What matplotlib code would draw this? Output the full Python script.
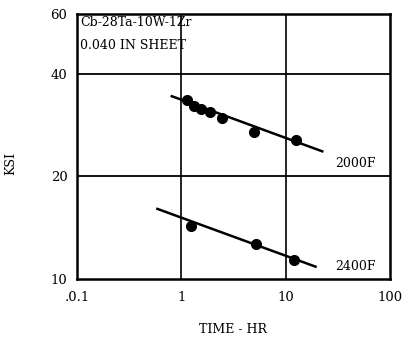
import matplotlib
matplotlib.use('Agg')
import matplotlib.pyplot as plt
from matplotlib.ticker import FixedLocator, FixedFormatter, NullLocator

# 2000F data
time_2000 = [1.14, 1.33, 1.56, 1.90, 2.43, 5.0, 12.5]
ksi_2000 = [33.6, 32.2, 31.5, 30.9, 29.7, 27.0, 25.5]
fit_time_2000 = [0.81, 22.5]
fit_ksi_2000 = [34.4, 23.7]

# 2400F data
time_2400 = [1.25, 5.15, 12.1]
ksi_2400 = [14.3, 12.7, 11.4]
fit_time_2400 = [0.59, 19.4]
fit_ksi_2400 = [16.06, 10.87]

xticks = [0.1, 1, 10, 100]
xtick_labels = ['.0.1', '1', '10', '100']
yticks = [10, 20, 40, 60]
ytick_labels = ['10', '20', '40', '60']

plt.rcParams['font.family'] = ['DejaVu Serif']

fig = plt.figure(figsize=(4.06, 3.39), dpi=100)
ax = fig.add_axes([0.19, 0.177, 0.77, 0.782])

ax.set_xscale('log')
ax.set_yscale('log')
ax.set_xlim(0.1, 100)
ax.set_ylim(10, 60)

for x in [1, 10]:
    ax.axvline(x, color='black', lw=1.2, zorder=1)
for y in [20, 40]:
    ax.axhline(y, color='black', lw=1.3, zorder=1)

ax.plot(fit_time_2000, fit_ksi_2000, color='black', lw=1.8, zorder=2)
ax.plot(time_2000, ksi_2000, 'o', color='black', ms=7, zorder=3)
ax.plot(fit_time_2400, fit_ksi_2400, color='black', lw=1.8, zorder=2)
ax.plot(time_2400, ksi_2400, 'o', color='black', ms=7, zorder=3)

ax.text(30, 21.8, '2000F', fontsize=9, ha='left', va='center')
ax.text(30, 10.9, '2400F', fontsize=9, ha='left', va='center')
ax.text(0.01, 0.966, 'Cb-28Ta-10W-1Zr', transform=ax.transAxes,
        fontsize=9, ha='left', va='center')
ax.text(0.01, 0.882, '0.040 IN SHEET', transform=ax.transAxes,
        fontsize=9, ha='left', va='center')

ax.xaxis.set_major_locator(FixedLocator(xticks))
ax.xaxis.set_major_formatter(FixedFormatter(xtick_labels))
ax.xaxis.set_minor_locator(NullLocator())
ax.yaxis.set_major_locator(FixedLocator(yticks))
ax.yaxis.set_major_formatter(FixedFormatter(ytick_labels))
ax.yaxis.set_minor_locator(NullLocator())
ax.tick_params(length=0, labelsize=9.5)
ax.tick_params(axis='x', pad=9)
ax.tick_params(axis='y', pad=7)

for s in ax.spines.values():
    s.set_linewidth(1.8)

ax.set_xlabel('TIME - HR', fontsize=9, labelpad=13)
ax.set_ylabel('KSI', fontsize=9)
ax.yaxis.set_label_coords(-0.19, 0.434)

fig.savefig('out.png', dpi=100)
